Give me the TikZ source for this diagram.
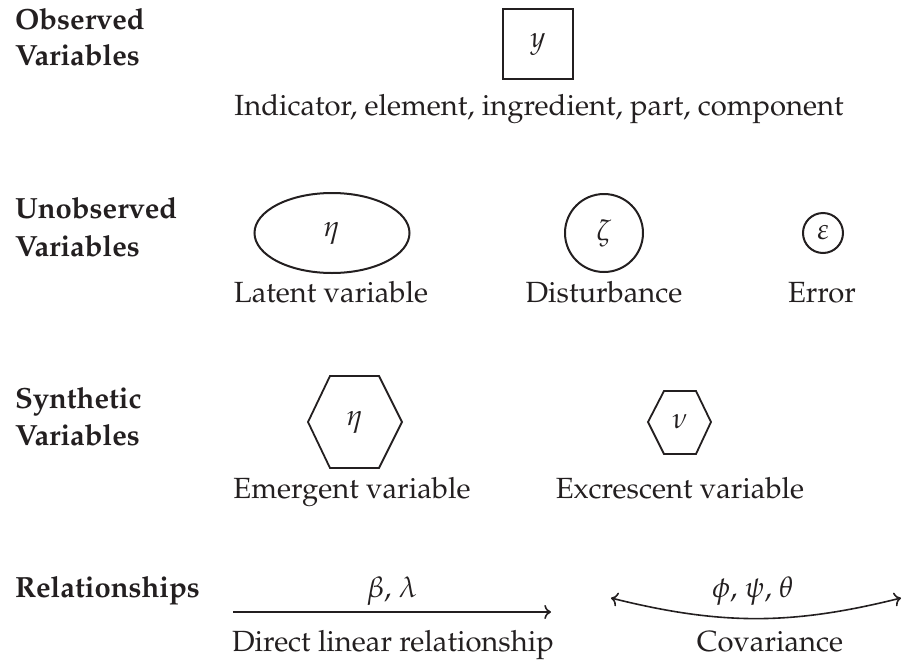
\documentclass[tikz,border=0pt]{standalone}
\usepackage[T1]{fontenc}
\usepackage{mathpazo}
\usetikzlibrary{shapes.geometric,arrows.meta}
\definecolor{ink}{HTML}{231F20}
\begin{document}
\begin{tikzpicture}[x=0.5pt,y=-0.5pt,
  every node/.style={text=ink, font=\fontsize{14.6}{18}\selectfont},
  head/.style={anchor=base west, font=\fontsize{14.6}{18}\selectfont\bfseries},
  lab/.style={anchor=base},
  shp/.style={draw=ink, line width=1pt, inner sep=0pt},
  hexa/.style={draw=ink, line width=0.9pt, line join=miter},
  rel/.style={draw=ink, line width=0.8pt}]
\useasboundingbox (0,0) rectangle (902,665);

% Observed
\node[head] (obs1) at (8,29) {Observed};
\node[head] (obs2) at (8,65) {Variables};
\node[shp, rectangle, minimum size=35pt] (y) at (538,44) {$y$};
\node[lab] (ylab) at (539,115) {Indicator, element, ingredient, part, component};

% Unobserved
\node[head] (un1) at (8,218) {Unobserved};
\node[head] (un2) at (8,256) {Variables};
\node[shp, ellipse, minimum width=77.5pt, minimum height=40pt] (eta) at (332,233) {$\eta$};
\node[shp, circle, minimum size=39pt] (zeta) at (604,233) {$\zeta$};
\node[shp, circle, minimum size=20pt] (eps) at (823,233) {$\varepsilon$};
\node[lab] (latlab) at (331,302) {Latent variable};
\node[lab] (dislab) at (604,302) {Disturbance};
\node[lab] (errlab) at (822,302) {Error};

% Synthetic
\node[head] (syn1) at (8,408) {Synthetic};
\node[head] (syn2) at (8,445) {Variables};
\draw[hexa] (330,376) -- (379,376) -- (402,422) -- (379,468) -- (330,468) -- (308,422) -- cycle;
\node (emg) at (355,422) {$\eta$};
\draw[hexa] (664,391) -- (696,391) -- (711,422) -- (696,454) -- (664,454) -- (648,422) -- cycle;
\node (exc) at (680,422) {$\nu$};
\node[lab] (emglab) at (352,498) {Emergent variable};
\node[lab] (exclab) at (680,498) {Excrescent variable};

% Relationships
\node[head] (rel1) at (8,597) {Relationships};
\coordinate (a1) at (233,612);
\coordinate (a2) at (551,612);
\draw[rel, ->] (a1) -- (a2);
\node[lab] (blab) at (392,597) {$\beta$, $\lambda$};
\node[lab] (dlab) at (393,651) {Direct linear relationship};
\coordinate (c1) at (611,598);
\coordinate (c2) at (901,598);
\draw[rel, <->] (c1) to[bend right=14] (c2);
\node[lab] (plab) at (753,597) {$\phi$, $\psi$, $\theta$};
\node[lab] (clab) at (770,651) {Covariance};
\end{tikzpicture}
\end{document}
